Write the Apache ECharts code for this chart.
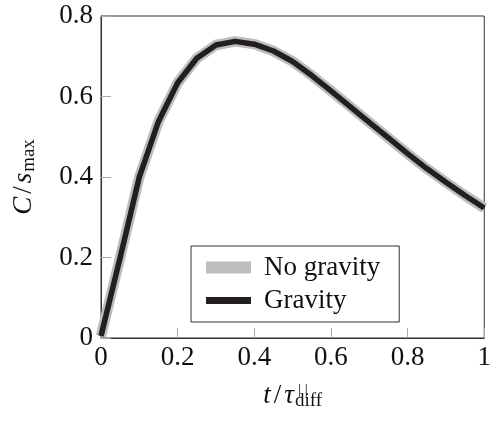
<!DOCTYPE html>
<html>
<head>
<meta charset="utf-8">
<script src="https://cdn.jsdelivr.net/npm/echarts@6/dist/echarts.min.js"></script>
<style>
  html, body { margin: 0; padding: 0; background: #fff; }
  #chart { width: 494px; height: 425px; }
</style>
</head>
<body>
<div id="chart"></div>
<script>
// values
const tValues = [0, 0.05, 0.1, 0.15, 0.2, 0.25, 0.3, 0.35, 0.4, 0.45, 0.5,
                 0.55, 0.6, 0.65, 0.7, 0.75, 0.8, 0.85, 0.9, 0.95, 1.0];
const noGravity = [0.005, 0.2, 0.4, 0.538, 0.634, 0.695, 0.728, 0.737, 0.73, 0.713, 0.687,
                   0.652, 0.614, 0.575, 0.536, 0.497, 0.458, 0.421, 0.387, 0.354, 0.323];
const gravity = [0.005, 0.2, 0.4, 0.538, 0.634, 0.695, 0.728, 0.737, 0.73, 0.713, 0.687,
                 0.652, 0.614, 0.575, 0.536, 0.497, 0.458, 0.421, 0.387, 0.354, 0.323];
const xTicks = [0, 0.2, 0.4, 0.6, 0.8, 1];
const yTicks = [0, 0.2, 0.4, 0.6, 0.8];

const serifFont = 'Liberation Serif';

function pairs(xs, ys) {
    return xs.map(function (x, i) { return [x, ys[i]]; });
}
function fmt(v) {
    return (v === 0 || v === 1) ? String(v) : v.toFixed(1);
}

// theme so every text defaults to the serif face
echarts.registerTheme('paper', {
    textStyle: { fontFamily: serifFont },
    categoryAxis: { axisLabel: { fontFamily: serifFont }, nameTextStyle: { fontFamily: serifFont } },
    valueAxis: { axisLabel: { fontFamily: serifFont }, nameTextStyle: { fontFamily: serifFont } },
    legend: { textStyle: { fontFamily: serifFont } }
});

const richName = {
    i: { fontFamily: serifFont, fontStyle: 'italic', fontSize: 27, color: '#111' },
    n: { fontFamily: serifFont, fontSize: 27, color: '#111', padding: [0, 3, 0, 3] },
    sub: { fontFamily: serifFont, fontSize: 19, color: '#111', padding: [12, 0, 0, 1] }
};

const chart = echarts.init(document.getElementById('chart'), 'paper');
chart.setOption({
    animation: false,
    textStyle: { fontFamily: serifFont },
    grid: {
        left: 101, right: 4, top: 16, bottom: 87,
        show: true, borderColor: '#333', borderWidth: 1
    },
    xAxis: {
        type: 'value', min: 0, max: 1, interval: 0.2,
        splitLine: { show: false },
        axisLine: { lineStyle: { color: '#333', width: 1 } },
        axisTick: { inside: true, length: 10, lineStyle: { color: '#aaa' } },
        axisLabel: { color: '#111', fontFamily: serifFont, fontSize: 27, margin: 6, formatter: fmt },
        name: '{i|t}{n|/}{i|τ}{sub|diff}',
        nameLocation: 'middle', nameGap: 42,
        nameTextStyle: { fontFamily: serifFont, rich: richName }
    },
    yAxis: {
        type: 'value', min: 0, max: 0.8, interval: 0.2,
        splitLine: { show: false },
        axisLine: { show: true, lineStyle: { color: '#333', width: 1 } },
        axisTick: { show: true, inside: true, length: 10, lineStyle: { color: '#aaa' } },
        axisLabel: { color: '#111', fontFamily: serifFont, fontSize: 27, margin: 8, formatter: fmt },
        name: '{i|C}{n|/}{i|s}{sub|max}',
        nameLocation: 'middle', nameGap: 62, nameRotate: 90,
        nameTextStyle: { fontFamily: serifFont, rich: richName }
    },
    legend: {
        left: 191, top: 246,
        orient: 'vertical',
        backgroundColor: '#fff',
        borderColor: '#333', borderWidth: 1, borderRadius: 0,
        padding: [8, 19, 8, 15],
        itemWidth: 45, itemHeight: 12, itemGap: 6,
        textStyle: { fontFamily: serifFont, fontSize: 27, color: '#111', padding: [0, 0, 0, 8] },
        data: [
            { name: 'No gravity', icon: 'rect', itemStyle: { color: '#bdbdbd' } },
            { name: 'Gravity',
              icon: 'path://M0,0h0.01v0.01h-0.01zM0,2.5h45v7h-45zM44.99,11.99h0.01v0.01h-0.01z',
              itemStyle: { color: '#231f20' } }
        ]
    },
    graphic: [{
        type: 'text', left: 298, top: 383,
        style: { text: '| |', fontFamily: serifFont, fontSize: 15, fill: '#111' }
    }],
    series: [
        {
            name: 'No gravity', type: 'line', showSymbol: false, symbol: 'none',
            data: pairs(tValues, noGravity),
            lineStyle: { color: '#bdbdbd', width: 10.5, join: 'round' },
            itemStyle: { color: '#bdbdbd' }
        },
        {
            name: 'Gravity', type: 'line', showSymbol: false, symbol: 'none',
            data: pairs(tValues, gravity),
            lineStyle: { color: '#231f20', width: 5.5, join: 'round' },
            itemStyle: { color: '#231f20' }
        }
    ]
});
</script>
</body>
</html>
